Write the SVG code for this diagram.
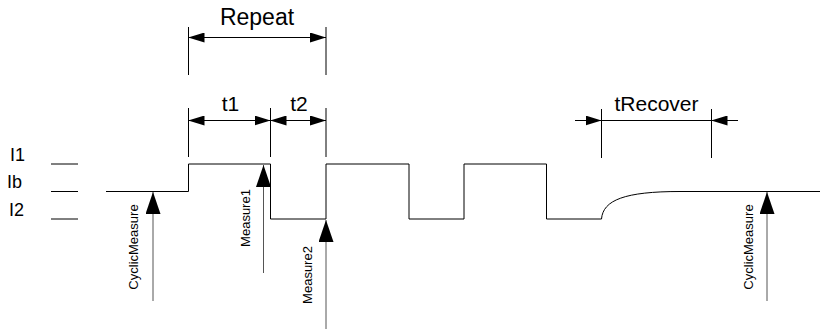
<svg xmlns="http://www.w3.org/2000/svg" width="820" height="329" viewBox="0 0 820 329">
  <style>
    .ln { fill: none; stroke: #000; stroke-width: 1; }
    .shaft { fill: none; stroke: #555; stroke-width: 1; }
    .lbl { font-family: "Liberation Sans", Arial, sans-serif; fill: #000; }
    .big { font-size: 23px; text-anchor: middle; }
    .dim { font-size: 21px; text-anchor: middle; }
    .lvl { font-size: 18px; }
    .vert { font-size: 13px; text-anchor: middle; }
  </style>
  <defs>
    <!-- dimension arrowhead -->
    <marker id="dimArrow" markerUnits="userSpaceOnUse" markerWidth="16" markerHeight="10" viewBox="0 0 16 10" refX="16" refY="5" orient="auto-start-reverse">
      <path d="M0,0 L16,5 L0,10 z" fill="#000"/>
    </marker>
    <!-- measurement arrowhead -->
    <marker id="measArrow" markerUnits="userSpaceOnUse" markerWidth="22" markerHeight="15" viewBox="0 0 22 15" refX="22" refY="7.5" orient="auto">
      <path d="M0,0 L22,7.5 L0,15 z" fill="#000"/>
    </marker>
  </defs>

  <!-- current level labels and ticks -->
  <g id="level-I1">
    <text class="lbl lvl" x="10" y="161">I1</text>
    <line class="ln" x1="51" y1="164" x2="78" y2="164"/>
  </g>
  <g id="level-Ib">
    <text class="lbl lvl" x="7" y="188">Ib</text>
    <line class="ln" x1="51" y1="191.5" x2="78" y2="191.5"/>
  </g>
  <g id="level-I2">
    <text class="lbl lvl" x="9" y="216">I2</text>
    <line class="ln" x1="51" y1="219" x2="78" y2="219"/>
  </g>

  <!-- current waveform -->
  <g id="waveform">
    <path class="ln" d="M106,191.5 H188.5 V164 H270.5 V219 H326 V164 H409 V219 H464 V164 H546.5 V219 H601.5 C603,200 625,191.5 680,191.5 H820"/>
  </g>

  <!-- Repeat dimension -->
  <g id="dim-repeat">
    <line class="ln" x1="188.5" y1="27" x2="188.5" y2="75"/>
    <line class="ln" x1="326" y1="27" x2="326" y2="75"/>
    <line class="ln" x1="188.5" y1="37.5" x2="326" y2="37.5" marker-start="url(#dimArrow)" marker-end="url(#dimArrow)"/>
    <text class="lbl big" x="257" y="25">Repeat</text>
  </g>

  <!-- t1 / t2 dimensions -->
  <g id="dim-t1">
    <line class="ln" x1="188.5" y1="108" x2="188.5" y2="157"/>
    <line class="ln" x1="270.5" y1="108" x2="270.5" y2="157"/>
    <line class="ln" x1="188.5" y1="120.5" x2="270.5" y2="120.5" marker-start="url(#dimArrow)" marker-end="url(#dimArrow)"/>
    <text class="lbl dim" x="230.5" y="111">t1</text>
  </g>
  <g id="dim-t2">
    <line class="ln" x1="326" y1="108" x2="326" y2="157"/>
    <line class="ln" x1="270.5" y1="120.5" x2="326" y2="120.5" marker-start="url(#dimArrow)" marker-end="url(#dimArrow)"/>
    <text class="lbl dim" x="299" y="111">t2</text>
  </g>

  <!-- tRecover dimension -->
  <g id="dim-trecover">
    <line class="ln" x1="601.5" y1="109" x2="601.5" y2="158"/>
    <line class="ln" x1="711.5" y1="109" x2="711.5" y2="158"/>
    <line class="ln" x1="601.5" y1="120.5" x2="711.5" y2="120.5"/>
    <line class="ln" x1="575" y1="120.5" x2="601.5" y2="120.5" marker-end="url(#dimArrow)"/>
    <line class="ln" x1="738" y1="120.5" x2="711.5" y2="120.5" marker-end="url(#dimArrow)"/>
    <text class="lbl dim" x="656.5" y="111">tRecover</text>
  </g>

  <!-- measurement trigger arrows -->
  <g id="connectors">
    <line class="shaft" x1="153" y1="301" x2="153" y2="192" marker-end="url(#measArrow)"/>
    <line class="shaft" x1="263.5" y1="273" x2="263.5" y2="165" marker-end="url(#measArrow)"/>
    <line class="shaft" x1="326" y1="329" x2="326" y2="220" marker-end="url(#measArrow)"/>
    <line class="shaft" x1="767" y1="301" x2="767" y2="192" marker-end="url(#measArrow)"/>
  </g>

  <g id="label-cyclic1">
    <text class="lbl vert" transform="translate(138,247) rotate(-90)">CyclicMeasure</text>
  </g>
  <g id="label-measure1">
    <text class="lbl vert" transform="translate(250,218) rotate(-90)">Measure1</text>
  </g>
  <g id="label-measure2">
    <text class="lbl vert" transform="translate(312,275) rotate(-90)">Measure2</text>
  </g>
  <g id="label-cyclic2">
    <text class="lbl vert" transform="translate(753,247) rotate(-90)">CyclicMeasure</text>
  </g>
</svg>
